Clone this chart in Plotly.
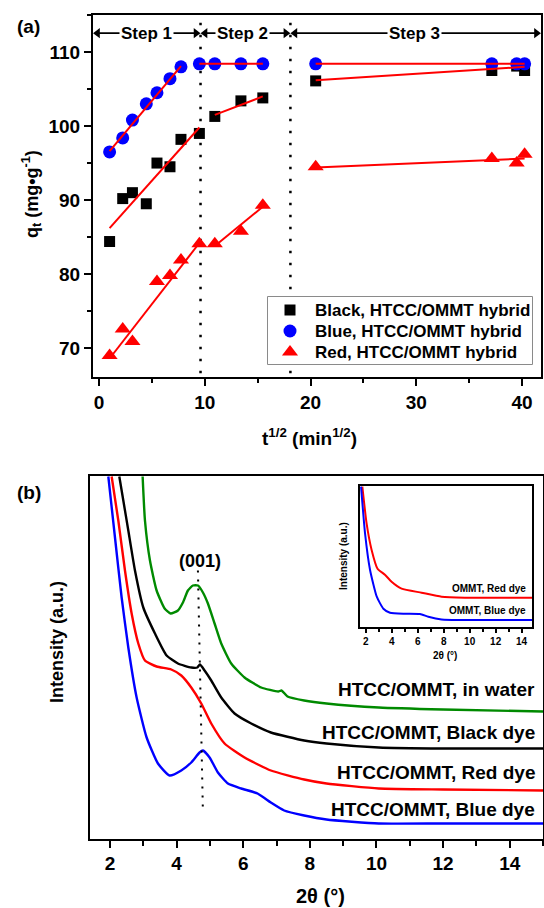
import plotly.graph_objects as go

# ---------------- Panel (a) data: sqrt(t) vs q_t ----------------
t_sqrt_black = [1.0, 2.24, 3.16, 4.47, 5.48, 6.71, 7.75, 9.49, 10.95, 13.42, 15.49, 20.49, 37.15, 39.5, 40.25]
q_black = [84.4, 90.2, 91.0, 89.5, 95.0, 94.5, 98.2, 99.0, 101.3, 103.4, 103.8, 106.1, 107.5, 108.1, 107.5]

t_sqrt_blue = [1.0, 2.24, 3.16, 4.47, 5.48, 6.71, 7.75, 9.49, 10.95, 13.42, 15.49, 20.49, 37.15, 39.5, 40.25]
q_blue = [96.5, 98.4, 100.8, 103.0, 104.5, 106.4, 108.0, 108.4, 108.4, 108.4, 108.4, 108.4, 108.4, 108.4, 108.4]

t_sqrt_red = [1.0, 2.24, 3.16, 5.48, 6.71, 7.75, 9.49, 10.95, 13.42, 15.49, 20.49, 37.15, 39.5, 40.25]
q_red = [69.0, 72.6, 70.9, 79.0, 79.8, 81.9, 84.1, 84.1, 85.8, 89.3, 94.5, 95.6, 95.0, 96.2]

series_names = ["Black, HTCC/OMMT hybrid", "Blue, HTCC/OMMT hybrid", "Red, HTCC/OMMT hybrid"]

# fitted segments: [x0, x1], [y0, y1]
fit_blue = [([1.0, 7.75], [96.6, 108.1]), ([9.49, 15.49], [108.4, 108.4]), ([20.49, 40.25], [108.4, 108.4])]
fit_black = [([1.0, 9.49], [86.2, 99.8]), ([10.95, 15.49], [101.5, 104.0]), ([20.49, 40.25], [106.2, 108.0])]
fit_red = [([1.0, 9.49], [68.6, 84.2]), ([10.95, 15.49], [83.8, 89.1]), ([20.49, 40.25], [94.4, 95.6])]

step_bounds = [9.6, 18.1]
step_labels = ["Step 1", "Step 2", "Step 3"]

# ---------------- Panel (b) data: XRD curves (arbitrary offsets) ----------------
water_x = [2.98, 3.05, 3.2, 3.4, 3.64, 3.82, 4.04, 4.19, 4.34, 4.49, 4.64, 4.79, 4.94, 5.14, 5.34, 5.64, 6.04, 6.54, 7.05, 7.15, 7.33, 7.83, 8.5, 10.07, 12.0, 15.0]
water_y = [362, 318, 278, 248, 230, 225, 228, 236, 248, 253, 253, 246, 235, 215, 195, 175, 161, 151, 147, 148, 142, 138, 135, 131, 129, 127]

black_x = [2.28, 2.4, 2.55, 2.75, 3.0, 3.35, 3.7, 4.04, 4.44, 4.62, 4.7, 4.84, 5.04, 5.34, 5.74, 6.24, 6.83, 7.83, 8.5, 10.07, 12.0, 15.0]
black_y = [362, 338, 308, 268, 231, 205, 183, 175, 171, 171, 174, 168, 158, 141, 125, 115, 106, 98, 95, 91, 90, 90]

red_x = [2.05, 2.25, 2.45, 2.65, 2.85, 3.05, 3.4, 3.84, 4.14, 4.44, 4.74, 5.04, 5.44, 6.04, 6.83, 7.83, 8.5, 10.07, 12.0, 15.0]
red_y = [362, 318, 268, 225, 195, 178, 172, 169, 163, 151, 135, 115, 95, 81, 68, 59, 55, 50, 49, 48]

blue_x = [1.95, 2.15, 2.35, 2.55, 2.8, 3.1, 3.44, 3.79, 4.14, 4.44, 4.69, 4.79, 4.99, 5.24, 5.54, 5.94, 6.43, 6.83, 7.23, 7.83, 8.5, 10.07, 12.0, 15.0]
blue_y = [362, 301, 241, 191, 141, 101, 75, 63, 68, 76, 86, 88, 81, 66, 55, 50, 45, 36, 28, 23, 19, 15, 15, 15]

peak_line_x = [4.64, 4.79]
peak_line_y = [268, 26]

curve_labels = ["HTCC/OMMT, in water", "HTCC/OMMT, Black dye", "HTCC/OMMT, Red dye", "HTCC/OMMT, Blue dye"]
curve_label_y = [149, 106, 66, 29]

# ---------------- Inset data ----------------
inset_red_x = [1.74, 2.07, 2.45, 2.91, 3.48, 3.99, 4.76, 6.3, 7.84, 9.64, 15.0]
inset_red_y = [140, 103, 77, 58, 52, 45, 38, 34, 30, 29, 29]
inset_blue_x = [1.64, 1.95, 2.33, 2.85, 3.36, 3.87, 5.02, 6.18, 6.82, 7.84, 9.64, 15.0]
inset_blue_y = [140, 93, 57, 30, 18, 14, 13, 12.7, 10, 7.3, 6.7, 6.7]
inset_labels = ["OMMT, Red dye", "OMMT, Blue dye"]
inset_label_y = [38, 16]

# ---------------- Figure ----------------
W, H = 544, 908
FONT = "Liberation Sans, Arial, sans-serif"
RED = "#ff0000"
BLUE = "#0000ff"
GREEN = "#008a00"
SYMBOLS = ["square", "circle", "triangle-up"]
SIZES = [11, 13, 14]
COLORS = ["black", BLUE, RED]

fig = go.Figure()

for xs, ys, nm, sym, sz, c in zip((t_sqrt_black, t_sqrt_blue, t_sqrt_red), (q_black, q_blue, q_red),
                                  series_names, SYMBOLS, SIZES, COLORS):
    fig.add_trace(go.Scatter(x=xs, y=ys, mode="markers", name=nm, showlegend=False,
                             marker=dict(symbol=sym, size=sz, color=c), xaxis="x", yaxis="y"))
for seg_list in (fit_black, fit_blue, fit_red):
    for xs, ys in seg_list:
        fig.add_trace(go.Scatter(x=xs, y=ys, mode="lines", line=dict(color=RED, width=2),
                                 showlegend=False, hoverinfo="skip", xaxis="x", yaxis="y"))

# step arrows (lines with arrow-head markers)
step_edges = [-0.57, step_bounds[0], step_bounds[1], 41.8]
arrow_y = 112.55
head = 0.38
for i in range(3):
    x0, x1 = step_edges[i] + 0.05, step_edges[i + 1] - 0.05
    fig.add_trace(go.Scatter(x=[x0 + head, x1 - head], y=[arrow_y, arrow_y], mode="lines+markers",
                             line=dict(color="black", width=1.6),
                             marker=dict(symbol=["triangle-left", "triangle-right"], size=9, color="black"),
                             showlegend=False, hoverinfo="skip", xaxis="x", yaxis="y"))

# panel b curves
for xs, ys, c in ((water_x, water_y, GREEN), (black_x, black_y, "black"), (red_x, red_y, RED), (blue_x, blue_y, BLUE)):
    fig.add_trace(go.Scatter(x=xs, y=ys, mode="lines", line=dict(color=c, width=2.4, shape="spline", smoothing=0.5),
                             showlegend=False, xaxis="x2", yaxis="y2"))
fig.add_trace(go.Scatter(x=peak_line_x, y=peak_line_y, mode="lines",
                         line=dict(color="black", width=2, dash="2px,7px"), showlegend=False, xaxis="x2", yaxis="y2"))

# inset curves
for xs, ys, c in ((inset_red_x, inset_red_y, RED), (inset_blue_x, inset_blue_y, BLUE)):
    fig.add_trace(go.Scatter(x=xs, y=ys, mode="lines", line=dict(color=c, width=2, shape="spline", smoothing=0.5),
                             showlegend=False, xaxis="x3", yaxis="y3"))

# legend swatches (drawn on a hidden pixel-scaled axis inside the legend box)
leg_rows = [310, 331, 352]
for nm, sym, sz, c, ry in zip(series_names, SYMBOLS, SIZES, COLORS, leg_rows):
    fig.add_trace(go.Scatter(x=[290], y=[ry], mode="markers", name=nm, showlegend=False,
                             marker=dict(symbol=sym, size=sz, color=c), xaxis="x4", yaxis="y4", hoverinfo="skip"))


def px2x(px):
    return px / W


def py2y(py):
    return 1 - py / H


axis_common = dict(showline=True, linecolor="black", linewidth=2, mirror=True, showgrid=False, zeroline=False,
                   ticks="outside", tickcolor="black", tickwidth=2)
hidden = dict(visible=False, showgrid=False, zeroline=False, fixedrange=True)

fig.update_layout(
    width=W, height=H, margin=dict(l=0, r=0, t=0, b=0),
    paper_bgcolor="white", plot_bgcolor="white", showlegend=False,
    font=dict(family=FONT, color="black"),
    xaxis=dict(domain=[px2x(93), px2x(541)], range=[-0.57, 41.8], tick0=0, dtick=10, ticklen=7,
               tickfont=dict(size=19, weight="bold"), minor=dict(dtick=5, ticks="outside", ticklen=4, tickwidth=2, tickcolor="black"),
               anchor="y", **axis_common),
    yaxis=dict(domain=[py2y(377), py2y(15)], range=[66.1, 115.0], tick0=70, dtick=10, ticklen=7,
               tickfont=dict(size=19, weight="bold"), minor=dict(dtick=5, ticks="outside", ticklen=4, tickwidth=2, tickcolor="black"),
               anchor="x", **axis_common),
    xaxis2=dict(domain=[px2x(90), px2x(543)], range=[1.4, 15.0], tick0=2, dtick=2, ticklen=7,
                tickfont=dict(size=19, weight="bold"), minor=dict(dtick=1, ticks="outside", ticklen=5, tickwidth=2, tickcolor="black"),
                anchor="y2", **axis_common),
    yaxis2=dict(domain=[py2y(838.5), py2y(476)], range=[0, 362.5], showticklabels=False,
                anchor="x2", **{**axis_common, "ticks": ""}),
    xaxis3=dict(domain=[px2x(360), px2x(532)], range=[1.56, 14.8], tick0=2, dtick=2, ticklen=4,
                tickfont=dict(size=10, weight="bold"), minor=dict(dtick=1, ticks="outside", ticklen=3, tickwidth=1.5, tickcolor="black"),
                anchor="y3", **{**axis_common, "tickwidth": 1.5}),
    yaxis3=dict(domain=[py2y(626.7), py2y(486)], range=[0, 140.7], showticklabels=False,
                anchor="x3", **{**axis_common, "ticks": ""}),
    xaxis4=dict(domain=[px2x(267), px2x(533)], range=[267, 533], anchor="y4", **hidden),
    yaxis4=dict(domain=[py2y(365), py2y(296)], range=[365, 296], anchor="x4", **hidden),
)

# dotted step boundaries (beneath the markers)
for xb in step_bounds:
    fig.add_shape(type="line", xref="x", yref="y", x0=xb, x1=xb, y0=66.6, y1=114.5, layer="below",
                  line=dict(color="black", width=2.5, dash="2.5px,9.5px"))

# legend box (in the legend subplot, so it covers the main panel's dotted line)
fig.add_shape(type="rect", xref="x4", yref="y4", x0=267.5, x1=532.5, y0=364.5, y1=296.5,
              line=dict(color="#8a8a8a", width=1), fillcolor="white", layer="below")
for nm, ry in zip(series_names, leg_rows):
    fig.add_annotation(x=313, y=ry, xref="x4", yref="y4", text=nm, showarrow=False, xanchor="left",
                       yanchor="middle", font=dict(size=17, weight="bold"))

step_label_x = [4.5, 13.6, 29.8]
for lx, lab in zip(step_label_x, step_labels):
    fig.add_annotation(x=lx, y=arrow_y, xref="x", yref="y", text=lab, showarrow=False, bgcolor="white",
                       font=dict(size=17, weight="bold"), borderpad=1)

# panel (b) labels
for lab, ly in zip(curve_labels, curve_label_y):
    fig.add_annotation(x=14.83, y=ly, xref="x2", yref="y2", text=lab, showarrow=False, xanchor="right",
                       font=dict(size=19, weight="bold"))
fig.add_annotation(x=4.69, y=278, xref="x2", yref="y2", text="(001)", showarrow=False,
                   font=dict(size=18, weight="bold"))

# inset labels
for lab, ly in zip(inset_labels, inset_label_y):
    fig.add_annotation(x=14.5, y=ly, xref="x3", yref="y3", text=lab, showarrow=False, xanchor="right",
                       font=dict(size=10, weight="bold"))


# titles and panel letters
def txt(px, py, text, size, angle=0):
    fig.add_annotation(x=px2x(px), y=py2y(py), xref="paper", yref="paper", text=text, showarrow=False,
                       textangle=angle, font=dict(size=size, weight="bold"), xanchor="center", yanchor="middle")


txt(28, 27, "(a)", 19)
txt(31, 194, "q<sub>t</sub> (mg•g<sup>-1</sup>)", 18, -90)
txt(309, 437, "t<sup>1/2</sup> (min<sup>1/2</sup>)", 19)
txt(29, 492, "(b)", 19)
txt(57, 642, "Intensity (a.u.)", 18, -90)
txt(320, 896, "2θ (°)", 20)
txt(445, 655, "2θ (°)", 10)
txt(343, 556, "Intensity (a.u.)", 10, -90)

fig.write_html("out.html")
